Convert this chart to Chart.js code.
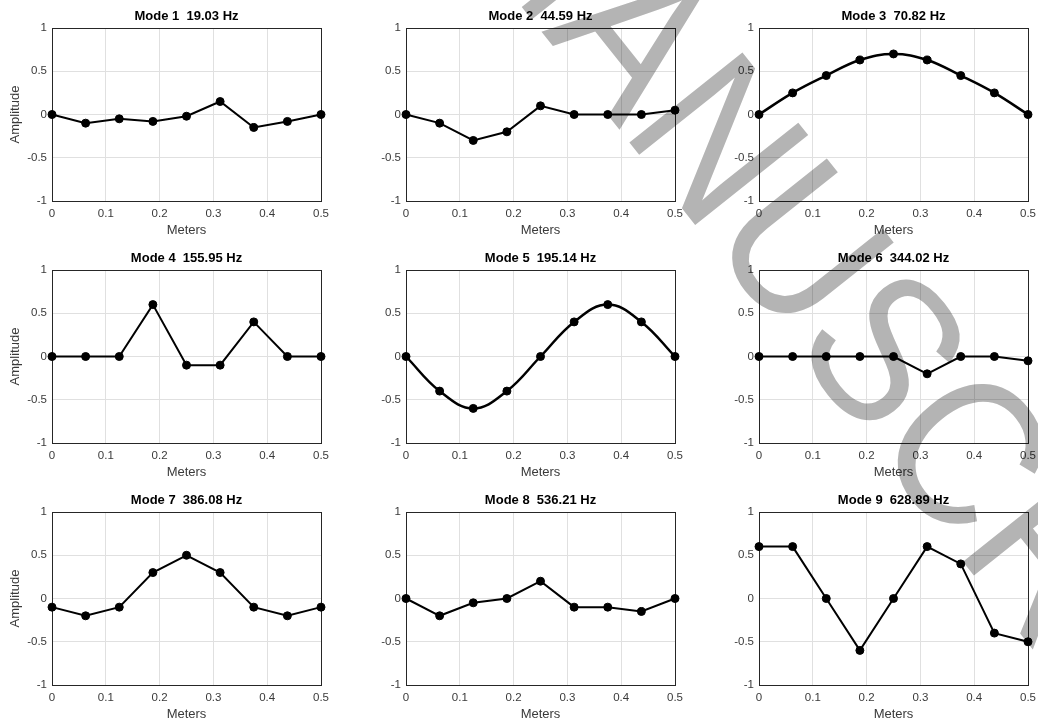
<!DOCTYPE html>
<html>
<head>
<meta charset="utf-8">
<script src="https://cdn.jsdelivr.net/npm/chart.js@4.4.1/dist/chart.umd.min.js"></script>
<style>
  html, body { margin: 0; padding: 0; background: #fff; }
  #wrap { position: relative; width: 1038px; height: 722px; overflow: hidden; }
  .cell { position: absolute; }
  #mark { position: absolute; left: 0; top: 0; pointer-events: none; mix-blend-mode: multiply; }
</style>
</head>
<body>
<div id="wrap">
  <canvas class="cell" id="c0" width="331" height="238" style="left:0px;top:0px"></canvas>
  <canvas class="cell" id="c1" width="331" height="238" style="left:354px;top:0px"></canvas>
  <canvas class="cell" id="c2" width="331" height="238" style="left:707px;top:0px"></canvas>
  <canvas class="cell" id="c3" width="331" height="238" style="left:0px;top:242px"></canvas>
  <canvas class="cell" id="c4" width="331" height="238" style="left:354px;top:242px"></canvas>
  <canvas class="cell" id="c5" width="331" height="238" style="left:707px;top:242px"></canvas>
  <canvas class="cell" id="c6" width="331" height="238" style="left:0px;top:484px"></canvas>
  <canvas class="cell" id="c7" width="331" height="238" style="left:354px;top:484px"></canvas>
  <canvas class="cell" id="c8" width="331" height="238" style="left:707px;top:484px"></canvas>
  <canvas id="mark" width="1038" height="722"></canvas>
</div>
<script>
// positions along the beam (m)
const meters = [0, 0.0625, 0.125, 0.1875, 0.25, 0.3125, 0.375, 0.4375, 0.5];

const modeTitles = [
  'Mode 1  19.03 Hz', 'Mode 2  44.59 Hz', 'Mode 3  70.82 Hz',
  'Mode 4  155.95 Hz', 'Mode 5  195.14 Hz', 'Mode 6  344.02 Hz',
  'Mode 7  386.08 Hz', 'Mode 8  536.21 Hz', 'Mode 9  628.89 Hz'
];

const mode1 = [0, -0.1, -0.05, -0.08, -0.02, 0.15, -0.15, -0.08, 0];
const mode2 = [0, -0.1, -0.3, -0.2, 0.1, 0, 0, 0, 0.05];
const mode3 = [0, 0.25, 0.45, 0.63, 0.7, 0.63, 0.45, 0.25, 0];
const mode4 = [0, 0, 0, 0.6, -0.1, -0.1, 0.4, 0, 0];
const mode5 = [0, -0.4, -0.6, -0.4, 0, 0.4, 0.6, 0.4, 0];
const mode6 = [0, 0, 0, 0, 0, -0.2, 0, 0, -0.05];
const mode7 = [-0.1, -0.2, -0.1, 0.3, 0.5, 0.3, -0.1, -0.2, -0.1];
const mode8 = [0, -0.2, -0.05, 0, 0.2, -0.1, -0.1, -0.15, 0];
const mode9 = [0.6, 0.6, 0, -0.6, 0, 0.6, 0.4, -0.4, -0.5];

const xTicks = [0, 0.1, 0.2, 0.3, 0.4, 0.5];
const yTicks = [-1, -0.5, 0, 0.5, 1];

const modes = [mode1, mode2, mode3, mode4, mode5, mode6, mode7, mode8, mode9];
const smooth = [false, false, true, false, true, false, false, false, false];

const FONT = '"Liberation Sans", Arial, Helvetica, sans-serif';
const TXT = '#3a3a3a';

// axes box like matlab
const boxPlugin = {
  id: 'box',
  beforeDatasetsDraw(chart) {
    const a = chart.chartArea, c = chart.ctx;
    c.save();
    c.strokeStyle = '#262626';
    c.lineWidth = 1;
    c.strokeRect(Math.round(a.left) + 0.5, Math.round(a.top) + 0.5,
      Math.round(a.right - a.left), Math.round(a.bottom - a.top));
    c.restore();
  }
};

modes.forEach(function(vals, i) {
  const firstCol = i % 3 === 0;
  new Chart(document.getElementById('c' + i), {
    type: 'line',
    data: {
      datasets: [{
        data: meters.map((x, k) => ({ x: x, y: vals[k] })),
        borderColor: '#000',
        backgroundColor: '#000',
        borderWidth: smooth[i] ? 2.5 : 2,
        tension: smooth[i] ? 0.4 : 0,
        pointRadius: 4,
        pointBorderWidth: 1,
        pointHoverRadius: 4,
        clip: false
      }]
    },
    options: {
      responsive: false,
      animation: false,
      events: [],
      layout: { padding: 0 },
      plugins: {
        legend: { display: false },
        tooltip: { enabled: false },
        title: {
          display: true,
          text: modeTitles[i],
          fullSize: false,
          color: '#000',
          font: { family: FONT, size: 13, weight: 'bold' },
          padding: { top: 9, bottom: 3.4 }
        }
      },
      scales: {
        x: {
          type: 'linear',
          min: 0,
          max: 0.5,
          afterBuildTicks: s => { s.ticks = xTicks.map(v => ({ value: v })); },
          afterFit: s => { s.height = 37; s.paddingLeft = 0; s.paddingRight = 10; },
          ticks: { color: TXT, padding: 6, font: { family: FONT, size: 11.5 }, maxRotation: 0, callback: v => String(v) },
          grid: { color: '#e0e0e0', drawTicks: false },
          border: { display: false },
          title: { display: true, text: 'Meters', color: TXT, padding: 0, font: { family: FONT, size: 13 } }
        },
        y: {
          min: -1,
          max: 1,
          afterBuildTicks: s => { s.ticks = yTicks.map(v => ({ value: v })); },
          afterFit: s => { s.width = 52; s.paddingTop = 0; s.paddingBottom = 0; },
          ticks: { color: TXT, padding: 5, font: { family: FONT, size: 11.5 }, callback: v => String(v) },
          grid: { color: '#e0e0e0', drawTicks: false },
          border: { display: false },
          title: { display: firstCol, text: 'Amplitude', color: TXT, padding: { top: 8, bottom: 0 }, font: { family: FONT, size: 13 } }
        }
      }
    },
    plugins: [boxPlugin]
  });
});

// watermark of the accepted manuscript
const wm = document.getElementById('mark').getContext('2d');
wm.fillStyle = '#b4b4b4';
wm.font = '210px "Liberation Sans", Arial, sans-serif';
const ang = 51.5 * Math.PI / 180;
const sx = 0.9, capH = 150;
const dir = [Math.cos(ang), Math.sin(ang)], up = [Math.sin(ang), -Math.cos(ang)];
const along = (wm.measureText('MA').width + wm.measureText('N').width / 2) * sx;
const ox = 721 - dir[0] * along - up[0] * capH / 2;
const oy = 137 - dir[1] * along - up[1] * capH / 2;
wm.translate(ox, oy);
wm.rotate(ang);
wm.scale(sx, 1);
wm.fillText('MANUSCRIPT', 0, 0);
</script>
</body>
</html>
